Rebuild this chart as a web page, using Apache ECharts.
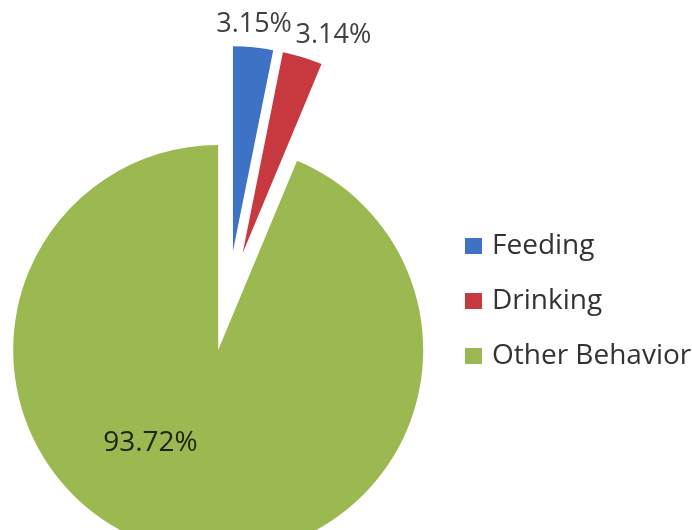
<!DOCTYPE html>
<html>
<head>
<meta charset="utf-8">
<script src="https://cdn.jsdelivr.net/npm/echarts@6/dist/echarts.min.js"></script>
<style>
  html, body { margin: 0; padding: 0; background: #ffffff; }
  #chart { width: 692px; height: 530px; }
</style>
</head>
<body>
<div id="chart"></div>
<script>
// Share of observed time per behaviour (percent)
const categories = ['Feeding', 'Drinking', 'Other Behavior'];
const shares = [3.15, 3.14, 93.72];

const sliceColors = ['#3d72c4', '#c8393f', '#9bb950'];
// Small nudges that move each percentage label from its default anchor
const labelNudges = [[-42, -23], [-12, -22], [-47, -10]];

const chart = echarts.init(document.getElementById('chart'), null, { renderer: 'canvas' });

const pieData = categories.map((name, i) => ({
  name: name,
  value: shares[i],
  selected: true,
  itemStyle: { color: sliceColors[i] },
  label: i === 2
    ? { position: 'inside', fontSize: 28, color: '#1d2410' }
    : { position: 'outside', fontSize: 27, color: '#404040' }
}));

chart.setOption({
  animation: false,
  legend: {
    orient: 'vertical',
    left: 465,
    top: 232,
    padding: 0,
    itemWidth: 17,
    itemHeight: 16,
    itemGap: 27,
    icon: 'rect',
    selectedMode: false,
    data: categories,
    textStyle: {
      fontFamily: 'Open Sans',
      fontSize: 28,
      lineHeight: 28,
      color: '#333333',
      padding: [0, 0, 0, 5]
    }
  },
  series: [{
    type: 'pie',
    center: [228, 301],
    radius: 205,
    startAngle: 90,
    clockwise: true,
    selectedMode: 'multiple',
    selectedOffset: 50,
    avoidLabelOverlap: false,
    emphasis: { disabled: true },
    label: {
      show: true,
      fontFamily: 'Open Sans',
      formatter: p => p.value.toFixed(2) + '%'
    },
    labelLine: { show: false, length: 0, length2: 0 },
    labelLayout: p => ({ dx: labelNudges[p.dataIndex][0], dy: labelNudges[p.dataIndex][1] }),
    data: pieData
  }]
});
</script>
</body>
</html>
